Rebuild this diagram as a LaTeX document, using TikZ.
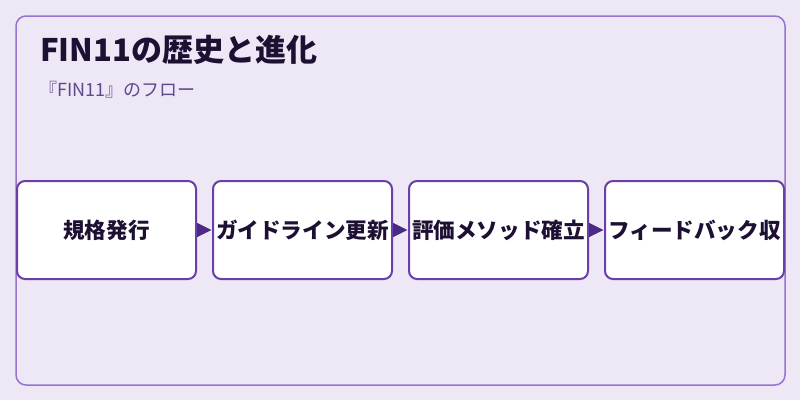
\documentclass[tikz,border=0pt]{standalone}
\usepackage{fontspec}
\setmainfont{Noto Sans CJK JP}
\usetikzlibrary{positioning,arrows.meta}
\definecolor{bgfill}{HTML}{EDE7F6}
\definecolor{frameline}{HTML}{9575CD}
\definecolor{boxline}{HTML}{6A3FA8}
\definecolor{arrowfill}{HTML}{4A2A86}
\definecolor{textdark}{HTML}{1E1033}
\definecolor{subtext}{HTML}{5C4A8C}

\begin{document}
\begin{tikzpicture}[x=1pt,y=-1pt,
    stage/.style={draw=boxline,line width=2pt,fill=white,rounded corners=8pt,
        minimum width=179pt,minimum height=98pt,inner sep=0pt,
        font=\fontsize{21.6}{24}\selectfont\bfseries,text=textdark},
    flow/.style={draw=arrowfill,line width=1pt,shorten >=0.5pt,
        -{Triangle[length=14.5pt,width=14pt,fill=arrowfill]}}]
\useasboundingbox (0,0) rectangle (800,400);
\fill [bgfill] (0,0) rectangle (800,400);
\draw [frameline,line width=1.5pt,rounded corners=10pt] (16,16) rectangle (785,385);
\node [anchor=base west,inner sep=0pt,text=textdark,font=\fontsize{31}{34}\selectfont\bfseries]
    (title) at (40,61.5) {FIN11の歴史と進化};
\node [anchor=base west,inner sep=0pt,text=subtext,font=\fontsize{18}{21}\selectfont]
    (subtitle) at (39,96) {『FIN11』のフロー};
\node [stage] (spec) at (106.5,230) {規格発行};
\node [stage,right=15pt of spec] (guide) {ガイドライン更新};
\node [stage,right=15pt of guide] (method) {評価メソッド確立};
\node [stage,right=15pt of method] (feedback) {フィードバック収};
\draw [flow] (spec) -- (guide);
\draw [flow] (guide) -- (method);
\draw [flow] (method) -- (feedback);
\end{tikzpicture}
\end{document}
